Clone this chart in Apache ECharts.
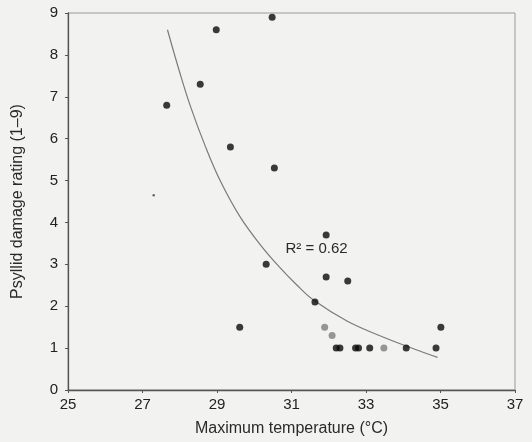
<!DOCTYPE html>
<html>
<head>
<meta charset="utf-8">
<script src="https://cdn.jsdelivr.net/npm/echarts@6/dist/echarts.min.js"></script>
<style>
html,body{margin:0;padding:0;background:#f2f2f1;}
#chart{width:532px;height:442px;}
</style>
</head>
<body>
<div id="chart"></div>
<script>
// Data
const blackPoints = [
  [27.65, 6.8], [28.55, 7.3], [28.98, 8.6], [29.36, 5.8], [30.48, 8.9],
  [30.54, 5.3], [29.61, 1.5], [30.32, 3.0], [31.93, 3.7], [31.93, 2.7],
  [32.51, 2.6], [31.63, 2.1], [32.2, 1.0], [32.3, 1.0], [32.72, 1.0],
  [32.8, 1.0], [33.1, 1.0], [34.08, 1.0], [34.88, 1.0], [35.01, 1.5]
];
const grayPoints = [[31.89, 1.5], [32.09, 1.3], [33.48, 1.0]];
const faintPoints = [[27.3, 4.65]];
// Trend curve
const trendCurve = [
  [27.67, 8.6], [28.0, 7.58], [28.28, 6.79], [28.69, 5.81], [29.09, 4.99],
  [29.63, 4.12], [30.17, 3.46], [30.61, 3.0], [31.15, 2.5], [31.6, 2.14],
  [32.5, 1.64], [33.39, 1.29], [34.29, 0.98], [34.92, 0.78]
];
const xTicks = [25, 27, 29, 31, 33, 35, 37];
const yTicks = [0, 1, 2, 3, 4, 5, 6, 7, 8, 9];
const r2Label = 'R² = 0.62';
const r2Pos = [30.84, 3.33];

const chart = echarts.init(document.getElementById('chart'));
const font = 'Liberation Sans, Arial, sans-serif';
chart.setOption({
  animation: false,
  backgroundColor: '#f2f2f1',
  grid: {left: 68, right: 17, top: 13, bottom: 47, show: true,
         borderColor: '#9a9a9a', borderWidth: 1, backgroundColor: 'transparent'},
  xAxis: {
    type: 'value', min: xTicks[0], max: xTicks[xTicks.length - 1], interval: 2,
    name: 'Maximum temperature (°C)', nameLocation: 'middle', nameGap: 31,
    nameTextStyle: {fontFamily: font, fontSize: 16, color: '#2a2a2a'},
    axisLine: {show: true, lineStyle: {color: '#555', width: 1.3}},
    axisTick: {show: true, length: 3, lineStyle: {color: '#555'}},
    axisLabel: {fontFamily: font, fontSize: 15, color: '#222', margin: 7},
    splitLine: {show: false}
  },
  yAxis: {
    type: 'value', min: yTicks[0], max: yTicks[yTicks.length - 1], interval: 1,
    name: 'Psyllid damage rating (1–9)', nameLocation: 'middle', nameGap: 42,
    nameTextStyle: {fontFamily: font, fontSize: 16, color: '#2a2a2a'},
    axisLine: {show: true, lineStyle: {color: '#555', width: 1.3}},
    axisTick: {show: true, length: 3, lineStyle: {color: '#555'}},
    axisLabel: {fontFamily: font, fontSize: 15, color: '#222', margin: 10},
    splitLine: {show: false}
  },
  series: [
    {type: 'line', data: trendCurve, smooth: 0.4, symbol: 'none',
     lineStyle: {color: '#7a7a7a', width: 1.2}, z: 1},
    {type: 'scatter', data: blackPoints, symbol: 'circle', symbolSize: 7,
     itemStyle: {color: '#0a0a0a'}, z: 3},
    {type: 'scatter', data: grayPoints, symbol: 'circle', symbolSize: 7,
     itemStyle: {color: '#7d7d7d'}, z: 3},
    {type: 'scatter', data: faintPoints, symbol: 'circle', symbolSize: 2.5,
     itemStyle: {color: '#444'}, z: 3}
  ]
});
const p = chart.convertToPixel({gridIndex: 0}, r2Pos);
chart.setOption({
  graphic: [{type: 'text', left: p[0], top: p[1] - 9,
    style: {text: r2Label, fontFamily: font, fontSize: 15, fill: '#2a2a2a'}}]
});
</script>
</body>
</html>
